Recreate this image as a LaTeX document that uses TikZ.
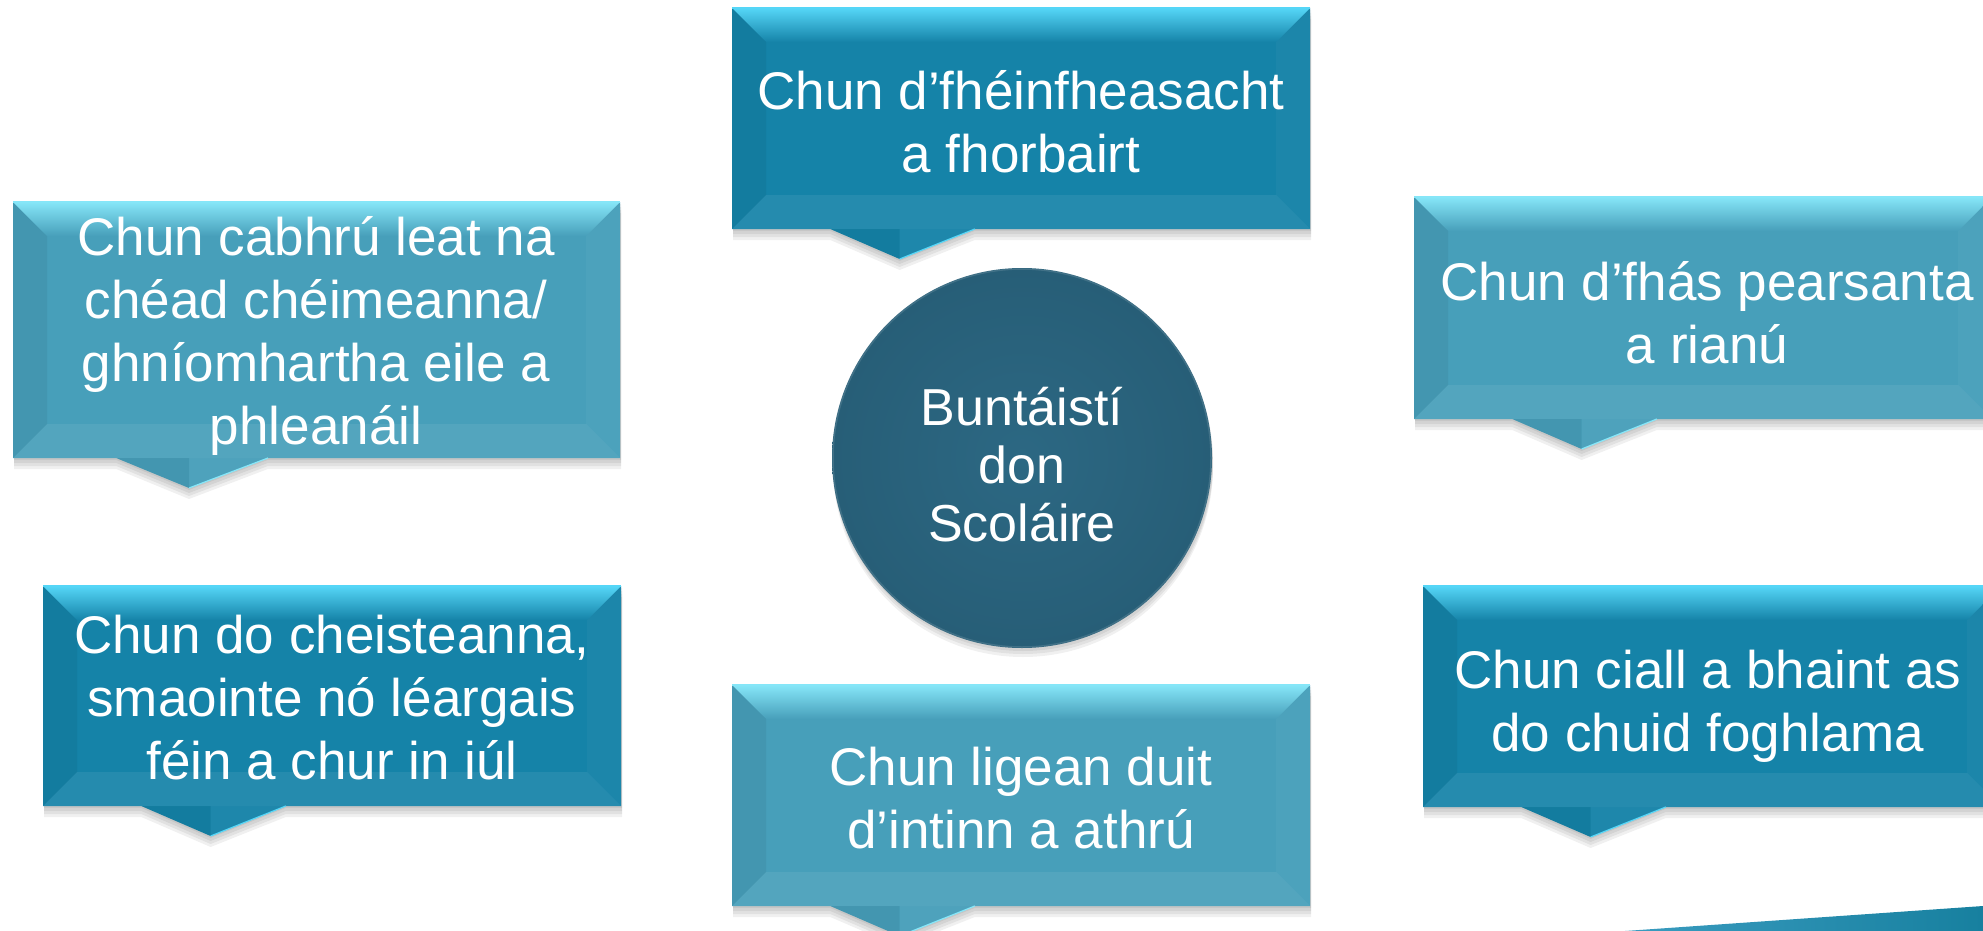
\documentclass[tikz,border=0pt]{standalone}
\usepackage{fontspec}
\setmainfont{Liberation Sans}
\definecolor{darkface}{HTML}{1583A8}
\definecolor{darktop}{HTML}{55D6F7}
\definecolor{medface}{HTML}{479FBA}
\definecolor{medtop}{HTML}{86E6F8}
\definecolor{hubin}{HTML}{2C6883}
\definecolor{hubout}{HTML}{275E77}
\definecolor{wedgeA}{HTML}{3A9CC0}
\definecolor{wedgeB}{HTML}{17809F}
\newcommand{\cbox}[6]{%
 \pgfmathsetmacro{\bw}{#3-#1}%
 \pgfmathsetmacro{\ta}{#1+0.17*\bw}%
 \pgfmathsetmacro{\tb}{#1+0.29*\bw}%
 \pgfmathsetmacro{\tc}{#1+0.42*\bw}%
 \pgfmathsetmacro{\ty}{#4+30}%
 \foreach \s in {2,5,8,11}{%
   \fill[black,opacity=0.06] (#1+1,#2+\s) -- (#3+1,#2+\s) -- (#3+1,#4+\s) -- (\tc,#4+\s) -- (\tb,\ty+\s) -- (\ta,#4+\s) -- (#1+1,#4+\s) -- cycle;}%
 \fill[#5] (#1,#2) -- (#3,#2) -- (#3,#4) -- (\tc,#4) -- (\tb,\ty) -- (\ta,#4) -- (#1,#4) -- cycle;
 \fill[black,opacity=0.05] (\ta,#4) -- (\tb,#4) -- (\tb,\ty) -- cycle;
 \fill[white,opacity=0.04] (\tb,#4) -- (\tc,#4) -- (\tb,\ty) -- cycle;
 \draw[#6,line width=1.2] (\tb,\ty) -- (\tc,#4);
 \shade[top color=#6,bottom color=#5] (#1,#2) -- (#3,#2) -- (#3-34,#2+34) -- (#1+34,#2+34) -- cycle;
 \fill[black,opacity=0.05] (#1,#2) -- (#1+34,#2+34) -- (#1+34,#4-34) -- (#1,#4) -- cycle;
 \fill[white,opacity=0.03] (#3,#2) -- (#3-34,#2+34) -- (#3-34,#4-34) -- (#3,#4) -- cycle;
 \fill[white,opacity=0.07] (#1,#4) -- (#1+34,#4-34) -- (#3-34,#4-34) -- (#3,#4) -- cycle;
 \draw[#6,line width=1.2] (#1,#2) -- (#3,#2);
}
\begin{document}
\begin{tikzpicture}[x=1pt,y=-1pt,
  boxtext/.style={text=white,align=center,font=\fontsize{53}{63}\selectfont,inner sep=0pt},
  hubtext/.style={text=white,align=center,font=\fontsize{52}{58}\selectfont,inner sep=0pt}]
\useasboundingbox (0,0) rectangle (1983,931);
\fill[white] (0,0) rectangle (1983,931);

% bottom-right wedge
\shade[left color=wedgeA,right color=wedgeB] (1625,931) -- (1983,906) -- (1983,931) -- cycle;

% callout boxes
\cbox{732}{8}{1310}{229}{darkface}{darktop}
\node[boxtext] (tA) at (1021,122) {Chun d’fhéinfheasacht\\a fhorbairt};

\cbox{13}{202}{620}{458}{medface}{medtop}
\node[boxtext] (tB) at (316,336) {Chun cabhrú leat na\\chéad chéimeanna/\\ghníomhartha eile a\\phleanáil};

\cbox{43}{586}{621}{806}{darkface}{darktop}
\node[boxtext] (tC) at (332,698) {Chun do cheisteanna,\\smaointe nó léargais\\féin a chur in iúl};

\cbox{732}{685}{1310}{906}{medface}{medtop}
\node[boxtext] (tD) at (1021,798) {Chun ligean duit\\d’intinn a athrú};

\cbox{1414}{197}{1992}{419}{medface}{medtop}
\node[boxtext] (tE) at (1707,313) {Chun d’fhás pearsanta\\a rianú};

\cbox{1423}{586}{2001}{807}{darkface}{darktop}
\node[boxtext] (tF) at (1708,706) {Chun ciall a bhaint as\\do chuid foghlama};

% central circle
\foreach \s in {3,6,9}{\fill[black,opacity=0.06] (1023,458+\s) circle (190);}
\shade[inner color=hubin,outer color=hubout] (1022,458) circle (190);
\draw[white,opacity=0.12,line width=1.5] (1022,458) circle (189);
\node[hubtext] (hub) at (1022,465) {Buntáistí\\don\\Scoláire};
\end{tikzpicture}
\end{document}
